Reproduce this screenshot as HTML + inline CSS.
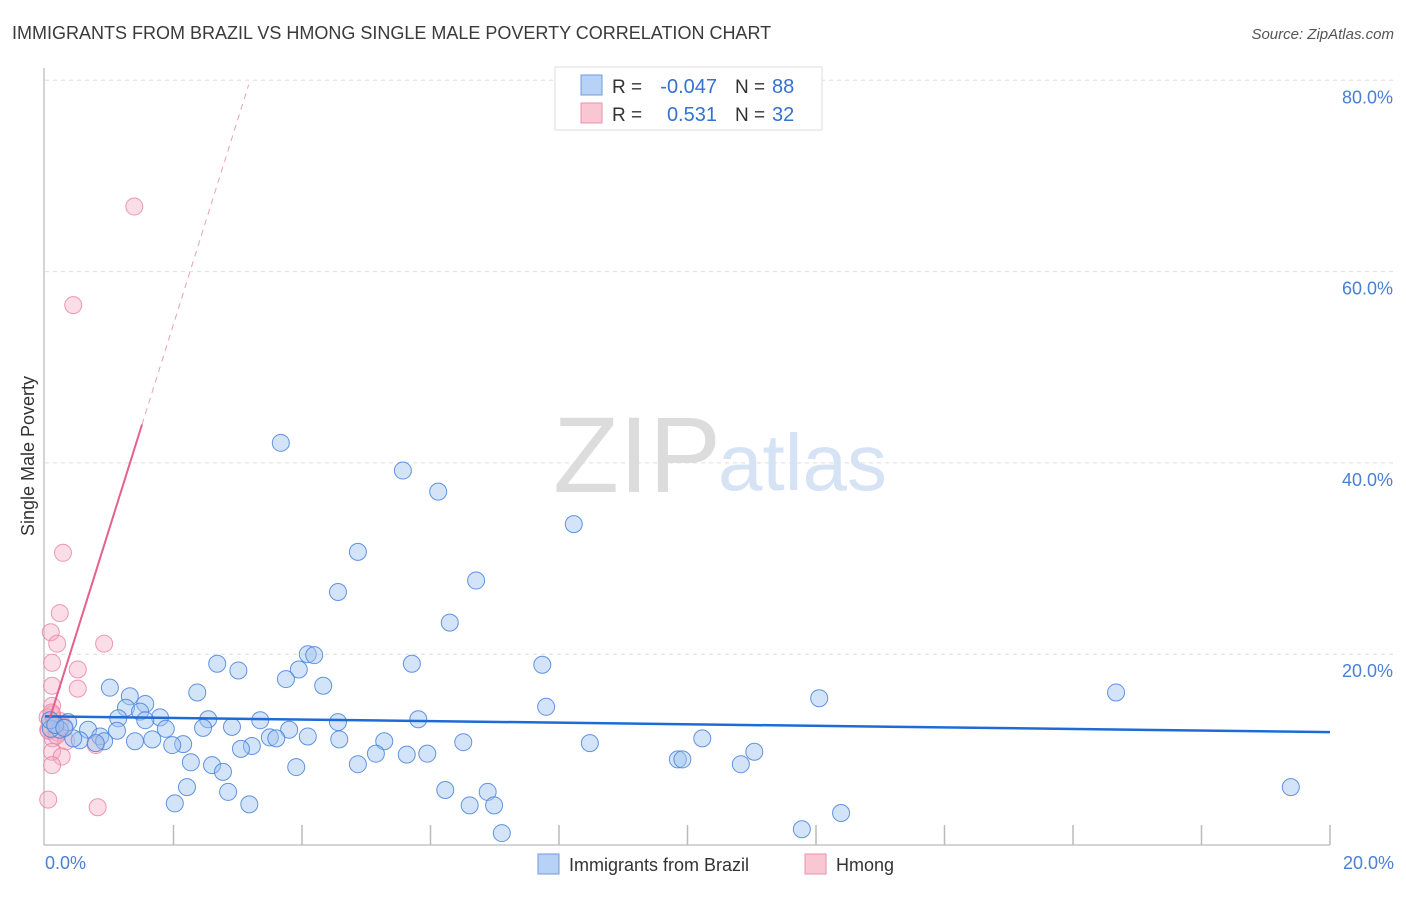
<!DOCTYPE html>
<html><head><meta charset="utf-8"><style>
body{margin:0;background:#fff;font-family:"Liberation Sans",sans-serif}
svg text{font-family:"Liberation Sans",sans-serif}
</style></head><body>
<svg id="chart" width="1406" height="892" viewBox="0 0 1406 892" xmlns="http://www.w3.org/2000/svg">
<text x="12" y="39" font-size="18" fill="#3a3a3a">IMMIGRANTS FROM BRAZIL VS HMONG SINGLE MALE POVERTY CORRELATION CHART</text>
<text x="1394" y="39" font-size="15" fill="#555" font-style="italic" text-anchor="end">Source: ZipAtlas.com</text>
<g id="grid"></g>
<g>
<text x="553" y="492" font-size="108" fill="#dcdcdc" font-family="Liberation Serif">ZIP</text>
<text x="718" y="490" font-size="80" fill="#d5e3f5">atlas</text>
</g>
<line x1="44" y1="68" x2="44" y2="845" stroke="#aaa"/>
<line x1="44" y1="845" x2="1330" y2="845" stroke="#aaa"/>
<g id="xticks"></g>
<g id="yticks"></g>
<text transform="translate(34,456) rotate(-90)" font-size="18" fill="#333" text-anchor="middle">Single Male Poverty</text>
<text x="45" y="869" font-size="18" fill="#4a7fd4">0.0%</text>
<text x="1394" y="869" font-size="18" fill="#4a7fd4" text-anchor="end">20.0%</text>
<g id="pinkpts"></g>
<g id="bluepts"></g>
<g id="trends"></g>
<g>
<rect x="555" y="67" width="267" height="63" fill="#fff" stroke="#ddd"/>
<rect x="581" y="75" width="21" height="20" fill="#b8d2f5" stroke="#6d9be0"/>
<rect x="581" y="103" width="21" height="20" fill="#f9c6d4" stroke="#ea92ac"/>
<text x="612" y="93" font-size="19" fill="#333">R =</text>
<text x="717" y="93" font-size="20" fill="#3571d1" text-anchor="end">-0.047</text>
<text x="735" y="93" font-size="19" fill="#333">N =</text>
<text x="772" y="93" font-size="20" fill="#3571d1">88</text>
<text x="612" y="121" font-size="19" fill="#333">R =</text>
<text x="717" y="121" font-size="20" fill="#3571d1" text-anchor="end">0.531</text>
<text x="735" y="121" font-size="19" fill="#333">N =</text>
<text x="772" y="121" font-size="20" fill="#3571d1">32</text>
</g>
<g>
<rect x="538" y="854" width="21" height="20" fill="#b8d2f5" stroke="#6d9be0"/>
<text x="569" y="871" font-size="18" fill="#333">Immigrants from Brazil</text>
<rect x="805" y="854" width="21" height="20" fill="#f9c6d4" stroke="#ea92ac"/>
<text x="836" y="871" font-size="18" fill="#333">Hmong</text>
</g>
</svg>
<script>
const blueX=[3.67,5.57,6.12,8.23,4.87,6.71,4.56,6.30,4.09,4.19,2.68,5.71,7.74,3.95,3.01,3.75,4.33,1.01,16.67,2.37,1.32,12.05,1.56,1.26,7.80,1.48,1.79,1.14,1.56,2.54,5.81,3.35,4.56,0.36,2.91,1.88,2.46,3.80,0.67,1.12,0.23,0.09,3.50,0.86,4.09,3.60,10.23,4.58,5.28,0.54,1.67,1.40,0.44,0.92,6.51,8.48,2.15,1.98,0.79,3.22,3.05,11.04,5.15,5.63,5.95,9.85,9.92,2.27,2.60,4.87,10.83,3.91,2.77,2.21,19.39,6.23,6.89,2.85,2.02,3.18,6.61,6.99,12.39,11.78,7.11,0.08,0.16,0.30];
const blueY=[42.1,39.2,37.0,33.6,30.7,27.7,26.5,23.3,20.0,19.9,19.0,19.0,18.9,18.4,18.3,17.4,16.7,16.5,16.0,16.0,15.6,15.4,14.8,14.4,14.5,14.0,13.4,13.3,13.1,13.2,13.2,13.1,12.9,12.9,12.4,12.2,12.3,12.1,12.1,12.0,12.1,12.2,11.3,11.4,11.4,11.2,11.2,11.1,10.9,11.0,11.1,10.9,11.2,10.9,10.8,10.7,10.6,10.5,10.7,10.4,10.1,9.8,9.6,9.5,9.6,9.0,9.0,8.7,8.4,8.5,8.5,8.2,7.7,6.1,6.1,5.8,5.6,5.6,4.4,4.3,4.2,4.2,3.4,1.7,1.3,13.1,12.6,12.3];
const pinkX=[1.39,0.44,0.28,0.23,0.09,0.19,0.92,0.11,0.51,0.11,0.51,0.11,0.11,0.08,0.16,0.05,0.20,0.12,0.33,0.79,0.11,0.26,0.11,0.05,0.82,0.04,0.24,0.14,0.30,0.06,0.18,0.10];
const pinkY=[66.8,56.5,30.6,24.3,22.3,21.1,21.1,19.1,18.4,16.7,16.4,14.6,13.7,13.1,12.6,12.1,11.8,11.2,10.9,10.5,9.8,9.3,8.4,4.8,4.0,13.4,13.0,12.8,12.4,12.0,11.5,13.9];
const yTicks=[20,40,60,80];
const xTickVals=[2,4,6,8,10,12,14,16,18,20];
const blueTrend=[13.5,11.85];
const pinkTrend=[11.7,21.4];
const X0=45,X1=1330,Y0=845.5,PY=9.565;
const sx=v=>X0+(X1-X0)*v/20;
const sy=v=>Y0-v*PY;
const NS='http://www.w3.org/2000/svg';
function mk(tag,attrs,parent){const e=document.createElementNS(NS,tag);for(const k in attrs)e.setAttribute(k,attrs[k]);parent.appendChild(e);return e;}
const grid=document.getElementById('grid'),yt=document.getElementById('yticks'),xt=document.getElementById('xticks');
yTicks.forEach(t=>{
 const l=mk('line',{x1:45,x2:1393,y1:sy(t),y2:sy(t),stroke:'#ddd','stroke-dasharray':'4,4'},grid);
 
 
 const tx=mk('text',{x:1393,y:sy(t)+23,'font-size':18,fill:'#4a7fd4','text-anchor':'end'},yt);
 tx.textContent=t.toFixed(1)+'%';
 
 
});
xTickVals.forEach(t=>{
 const l=mk('line',{x1:sx(t),x2:sx(t),y1:825,y2:845,stroke:'#bbb','stroke-width':1.5},xt);
 
 
});
const pp=document.getElementById('pinkpts');
pinkX.forEach((x,i)=>{
 const c=mk('circle',{cx:sx(x),cy:sy(pinkY[i]),r:8.5,fill:'rgba(246,170,195,0.4)',stroke:'rgba(232,130,160,0.8)','stroke-width':1},pp);
 
 
});
const bp=document.getElementById('bluepts');
blueX.forEach((x,i)=>{
 const c=mk('circle',{cx:sx(x),cy:sy(blueY[i]),r:8.5,fill:'rgba(160,195,240,0.45)',stroke:'rgba(70,130,220,0.85)','stroke-width':1},bp);
 
 
});
const tr=document.getElementById('trends');
const bl=mk('line',{x1:sx(0),y1:sy(blueTrend[0]),x2:sx(20),y2:sy(blueTrend[1]),stroke:'#1e6bd6','stroke-width':2.5},tr);


const pf=x=>pinkTrend[0]+pinkTrend[1]*x;
const ps=mk('line',{x1:sx(0.08),y1:sy(pf(0.08)),x2:sx(1.51),y2:sy(pf(1.51)),stroke:'#e5608c','stroke-width':2},tr);


const pd=mk('line',{x1:sx(1.51),y1:sy(pf(1.51)),x2:sx(3.17),y2:sy(pf(3.17)),stroke:'#eba0b8','stroke-width':1,'stroke-dasharray':'6,5'},tr);


</script>
</body></html>
